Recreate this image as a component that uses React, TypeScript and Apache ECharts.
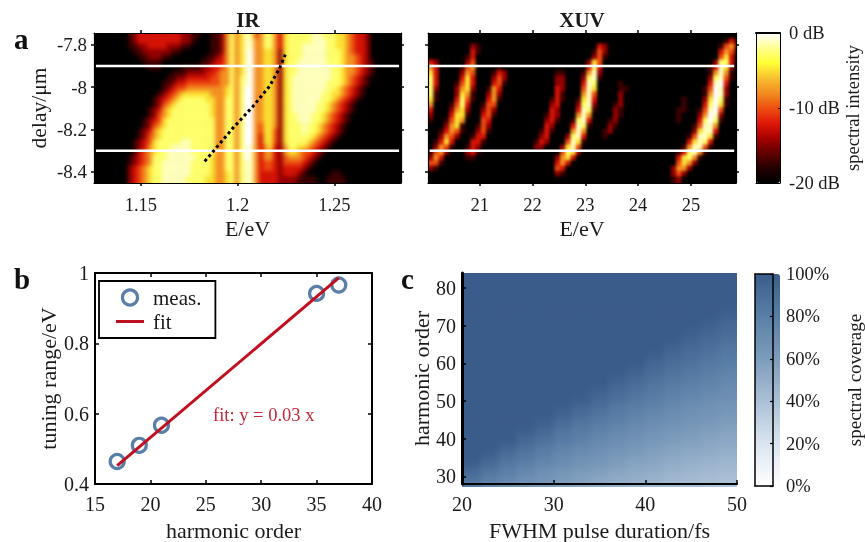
import React, { useEffect, useRef } from "react";
import * as echarts from "echarts";

const serif = '"Liberation Serif", "Times New Roman", serif';

// Panel a, IR: one digit per cell (level 0 to 9), 63 columns, top row first
const irRows = [
  "0000000123 3333333322 1100112575 6874577536 7777788777 6654332000 000",
  "0000000123 3333333322 1000112575 6885577536 7777788877 6654332000 000",
  "0000000112 2333322211 0000112575 6885577536 7778888877 6654332000 000",
  "0000000011 2222221100 0000112575 6895566526 7778888877 7654332000 000",
  "0000000001 1222110000 0001123575 6895566526 7778888877 7655432000 000",
  "0000000000 1111000000 0011233575 6895566526 7788888877 7655432100 000",
  "0000000000 0111000011 1122334575 6895566526 7788888887 7655432100 000",
  "0000000000 0000001112 2223345575 6895566526 7788888887 7655432100 000",
  "0000000000 0000011223 3333445575 7895566526 7888888887 7654321000 000",
  "0000000000 0000112334 4444445575 7895566526 7888888877 7654321000 000",
  "0000000000 0000123445 5555555675 7995566526 7888888877 6543210000 000",
  "0000000000 0001234566 6666555675 7995566526 7888888776 6543210000 000",
  "0000000000 0012345677 7776655775 7995566526 7888888776 5432100000 000",
  "0000000000 0012456777 7777655775 7995566526 7888887765 4321000000 000",
  "0000000000 0123567777 7777655775 7995566526 7888887765 4321000000 000",
  "0000000000 0124567777 7777655775 7995566526 7788877654 3210000000 000",
  "0000000000 1234677777 7777755775 7995566526 7788877654 3210000000 000",
  "0000000000 1245677777 7777755775 7995466526 7778776543 2100000000 000",
  "0000000001 2356777777 7777755775 7995466426 7778776543 2100000000 000",
  "0000000001 2456777777 7777755775 7995366426 7777765432 1000000000 000",
  "0000000012 3467777788 7777755775 7995366426 7777654321 0000000000 000",
  "0000000012 3567778888 7777755775 7985356325 7766543210 0000000000 000",
  "0000000013 4567788888 7777755775 7985355325 6654432100 0000000000 000",
  "0000000123 4577788888 8777655775 7985355324 5554321000 0000000000 000",
  "0000000123 4577888888 7777655775 7885344324 4443210000 0000000000 000",
  "0000000234 5677888888 7777655775 7885344323 3332100000 0000000000 000",
  "0000000234 5677888888 7777655675 7885333323 3321000001 1000000000 000",
  "0000000234 5677888887 7776655675 7885333322 2211110011 1100000000 000",
];

// Panel a, XUV: same coding, 59 columns
const xuvRows = [
  "0000000000 0000000000 0000000000 0000000000 0000000000 000000000",
  "0000000000 0000000000 0000000000 0000000000 0000000000 000000131",
  "0000000021 0000000000 0000000000 0032000000 0000000000 000001452",
  "0000000031 0000000000 0000000000 0142000000 0000000000 000003541",
  "0000000130 0000000000 0000000000 0241000000 0000000000 000004630",
  "3200000240 0000000000 0000000000 2640000000 0000000000 000027730",
  "5300001450 0001000000 0000000000 3730000000 0000000000 000138620",
  "6300002540 0013200000 0000110001 5820000000 0000000000 000158510",
  "7300003630 0024200000 0000220002 7810000000 0000000000 000278410",
  "7300014630 0034100000 0000220003 8700001000 0000000000 000389300",
  "7200025620 0153000000 0000320004 8600001100 0000000000 001498200",
  "7100026510 0252000000 0000310005 8400002000 0000000000 001598200",
  "6100037410 0351000000 0001310016 8300002000 0000000010 002697100",
  "5000147300 1440000000 0002300027 8200012000 0000000010 003796100",
  "3000256200 2420000000 0003200038 7100021000 0000000110 014894000",
  "2000366100 3410000000 0013200058 5000021000 0000000100 025982000",
  "1001465000 4300000000 0023100178 3000120000 0000000100 037971000",
  "0002561001 4200000000 0032000387 1000210000 0000000000 148850000",
  "0013541002 4100000000 0131000585 0001200000 0000000000 268830000",
  "0025420013 3000000000 0230002783 0001000000 0000000001 488610000",
  "0136300033 1000000000 1320004861 0000000000 0000000003 687300000",
  "0254100132 0000000000 2200026840 0000000000 0000000015 884100000",
  "1452000231 0000000000 0000047620 0000000000 0000000137 851000000",
  "2530000110 0000000000 0000256300 0000000000 0000000367 510000000",
  "4410000000 0000000000 0000353000 0000000000 0000000465 200000000",
  "2100000000 0000000000 0000430000 0000000000 0000002552 000000000",
  "0000000000 0000000000 0000210000 0000000000 0000002420 000000000",
  "0000000000 0000000000 0000000000 0000000000 0000001200 000000000",
];

// dB for each level of the two tables above
const levelDb = [-20, -17.2, -14.6, -12.4, -10.2, -7.8, -5, -2.8, -1.2, 0];

const irStart = { e: 1.1258, delay: -7.745, de: 0.0025, dd: 0.025 };
const xuvStart = { e: 20.02, delay: -7.745, de: 0.1, dd: 0.025 };

// Tuning curve over the IR map
const dotCurve = [
  [1.183, -8.35],
  [1.1976, -8.193],
  [1.208, -8.09],
  [1.2165, -7.996],
  [1.2217, -7.91],
  [1.2246, -7.847],
];
const whiteDelays = [-7.9, -8.3];

// Panel b
const measured = [
  [17, 0.464],
  [19, 0.51],
  [21, 0.567],
  [35, 0.942],
  [37, 0.966],
];
const fitLine = [
  [17, 0.452],
  [37, 0.986],
];

// Panel c: coverage in %, bottom row (harmonic 28-30) first, columns 20-22 fs ... 48-50 fs
const coverageRows = [
  [84, 77, 72, 67, 63, 59, 56, 53, 50, 48, 45, 43, 42, 40, 38],
  [89, 82, 77, 71, 67, 63, 59, 56, 53, 51, 49, 46, 44, 43, 41],
  [95, 88, 81, 76, 71, 67, 63, 60, 57, 54, 52, 49, 47, 45, 44],
  [100, 93, 86, 81, 76, 71, 67, 64, 60, 57, 55, 52, 50, 48, 46],
  [100, 98, 91, 85, 80, 75, 71, 67, 64, 61, 58, 55, 53, 51, 49],
  [100, 100, 96, 90, 84, 79, 75, 71, 67, 64, 61, 58, 56, 54, 52],
  [100, 100, 100, 94, 89, 83, 79, 74, 71, 67, 64, 61, 59, 56, 54],
  [100, 100, 100, 99, 93, 87, 82, 78, 74, 71, 67, 64, 62, 59, 57],
  [100, 100, 100, 100, 97, 91, 86, 82, 78, 74, 70, 67, 65, 62, 60],
  [100, 100, 100, 100, 100, 95, 90, 85, 81, 77, 74, 70, 67, 65, 62],
  [100, 100, 100, 100, 100, 99, 94, 89, 84, 80, 77, 73, 70, 67, 65],
  [100, 100, 100, 100, 100, 100, 98, 93, 88, 84, 80, 76, 73, 70, 68],
  [100, 100, 100, 100, 100, 100, 100, 96, 91, 87, 83, 79, 76, 73, 70],
  [100, 100, 100, 100, 100, 100, 100, 100, 95, 90, 86, 82, 79, 76, 73],
  [100, 100, 100, 100, 100, 100, 100, 100, 98, 94, 89, 85, 82, 79, 75],
  [100, 100, 100, 100, 100, 100, 100, 100, 100, 97, 92, 88, 85, 81, 78],
  [100, 100, 100, 100, 100, 100, 100, 100, 100, 100, 95, 91, 88, 84, 81],
  [100, 100, 100, 100, 100, 100, 100, 100, 100, 100, 99, 94, 90, 87, 83],
  [100, 100, 100, 100, 100, 100, 100, 100, 100, 100, 100, 97, 93, 90, 86],
  [100, 100, 100, 100, 100, 100, 100, 100, 100, 100, 100, 100, 96, 92, 89],
  [100, 100, 100, 100, 100, 100, 100, 100, 100, 100, 100, 100, 99, 95, 91],
  [100, 100, 100, 100, 100, 100, 100, 100, 100, 100, 100, 100, 100, 98, 94],
  [100, 100, 100, 100, 100, 100, 100, 100, 100, 100, 100, 100, 100, 100, 97],
  [100, 100, 100, 100, 100, 100, 100, 100, 100, 100, 100, 100, 100, 100, 99],
  [100, 100, 100, 100, 100, 100, 100, 100, 100, 100, 100, 100, 100, 100, 100],
  [100, 100, 100, 100, 100, 100, 100, 100, 100, 100, 100, 100, 100, 100, 100],
  [100, 100, 100, 100, 100, 100, 100, 100, 100, 100, 100, 100, 100, 100, 100],
  [100, 100, 100, 100, 100, 100, 100, 100, 100, 100, 100, 100, 100, 100, 100],
];

const hotColors = ["#000000", "#240000", "#600000", "#a80000", "#e01808", "#ee5010", "#f28c20", "#f8c030", "#ffff33", "#ffff90", "#ffffff"];
const blueColors = ["#ffffff", "#dbe5ef", "#abc0d6", "#7d9cbc", "#5a7fa6", "#3a5c8b"];

const irTicksX = [1.15, 1.2, 1.25];
const delayTicks = [-7.8, -8, -8.2, -8.4];
const xuvTicksX = [21, 22, 23, 24, 25];
const harmonicTicks = [30, 40, 50, 60, 70, 80];

const IR_BOX = { left: 94, top: 33, width: 307, height: 150 };
const XUV_BOX = { left: 428, top: 33, width: 308, height: 150 };
const COV_BOX = { left: 462, top: 273, width: 275, height: 214 };
const IR_RANGE = { xMin: 1.1258, xMax: 1.2844, yMin: -8.452, yMax: -7.745 };
const XUV_RANGE = { xMin: 20.02, xMax: 25.854, yMin: -8.452, yMax: -7.745 };
const COV_RANGE = { xMin: 20, xMax: 50, yMin: 28, yMax: 84 };
const PAD = 8;

function levelCells(rows: string[], s: { e: number; delay: number; de: number; dd: number }) {
  const out: number[][] = [];
  rows.forEach((row, r) => {
    row.replace(/ /g, "").split("").forEach((ch, c) => {
      out.push([s.e + c * s.de, s.delay - r * s.dd, levelDb[Number(ch)]]);
    });
  });
  return out;
}

function coverageCells() {
  const out: number[][] = [];
  coverageRows.forEach((row, r) => {
    row.forEach((v, c) => {
      out.push([20 + c * 2, 30 + r * 2, v]);
    });
  });
  return out;
}

function cellSeries(data: number[][], dx: number, dy: number, pad: number) {
  return {
    type: "custom",
    data,
    silent: true,
    progressive: 0,
    encode: { x: 0, y: 1 },
    renderItem(params: any, api: any) {
      const x = api.value(0);
      const y = api.value(1);
      const a = api.coord([x, y]);
      const b = api.coord([x + dx, y - dy]);
      const cs = params.coordSys;
      let x0 = a[0];
      let y0 = a[1];
      let x1 = b[0] + 0.6;
      let y1 = b[1] + 0.6;
      if (pad) {
        if (x0 <= cs.x + 1) x0 -= pad;
        if (y0 <= cs.y + 1) y0 -= pad;
        if (x1 >= cs.x + cs.width - 6) x1 += pad;
        if (y1 >= cs.y + cs.height - 6) y1 += pad;
      }
      return {
        type: "rect",
        shape: { x: x0, y: y0, width: x1 - x0, height: y1 - y0 },
        style: { fill: api.visual("color") },
      };
    },
  };
}

function heatOption(box: any, range: any, data: number[][], dx: number, dy: number, min: number, max: number, colors: string[]) {
  return {
    animation: false,
    grid: { left: PAD, top: PAD, width: box.width, height: box.height, show: false },
    xAxis: { type: "value", min: range.xMin, max: range.xMax, show: false },
    yAxis: { type: "value", min: range.yMin, max: range.yMax, show: false },
    visualMap: { show: false, min, max, dimension: 2, inRange: { color: colors } },
    series: [cellSeries(data, dx, dy, PAD)],
  };
}

const label = (size = 18) => ({ fontFamily: serif, fontSize: size, color: "#1a1a1a" });
const line = (width = 1.2) => ({ show: true, onZero: false, lineStyle: { color: "#000", width } });

function mainOption() {
  const grid = [
    { ...IR_BOX },
    { ...XUV_BOX },
    { left: 756, top: 33, width: 24, height: 150 },
    { left: 95, top: 273, width: 277, height: 214 },
    { ...COV_BOX },
    { left: 755, top: 274, width: 25, height: 212 },
  ];
  const xAxis: any[] = [];
  const yAxis: any[] = [];
  const hidden = { show: false };

  // IR
  const irX = { gridIndex: 0, type: "value", min: IR_RANGE.xMin, max: IR_RANGE.xMax, splitLine: hidden, axisLine: line(), axisTick: { show: true, customValues: irTicksX, length: 3, lineStyle: { color: "#000", width: 1.5 } } };
  const yPanelA = { type: "value", min: IR_RANGE.yMin, max: IR_RANGE.yMax, splitLine: hidden, axisLine: line(), axisTick: { show: true, customValues: delayTicks, length: 3, lineStyle: { color: "#000", width: 1.5 } } };
  xAxis.push({ ...irX, position: "bottom", name: "E/eV", nameLocation: "middle", nameGap: 34, nameTextStyle: label(22), axisLabel: { ...label(18.5), margin: 12, customValues: irTicksX, formatter: (v: number) => String(v) } });
  xAxis.push({ ...irX, position: "top", axisLabel: hidden });
  yAxis.push({ ...yPanelA, gridIndex: 0, position: "left", name: "delay/μm", nameLocation: "middle", nameGap: 44, nameTextStyle: label(21.5), axisLabel: { ...label(19), margin: 7, customValues: delayTicks, formatter: (v: number) => String(v) } });
  yAxis.push({ ...yPanelA, gridIndex: 0, position: "right", axisLabel: hidden });

  // XUV
  const xuvX = { gridIndex: 1, type: "value", min: XUV_RANGE.xMin, max: XUV_RANGE.xMax, splitLine: hidden, axisLine: line(), axisTick: { show: true, customValues: xuvTicksX, length: 3, lineStyle: { color: "#000", width: 1.5 } } };
  xAxis.push({ ...xuvX, position: "bottom", name: "E/eV", nameLocation: "middle", nameGap: 34, nameTextStyle: label(22), axisLabel: { ...label(18.5), margin: 12, customValues: xuvTicksX, formatter: (v: number) => String(v) } });
  xAxis.push({ ...xuvX, position: "top", axisLabel: hidden });
  yAxis.push({ ...yPanelA, gridIndex: 1, position: "left", axisLabel: hidden });
  yAxis.push({ ...yPanelA, gridIndex: 1, position: "right", axisLabel: hidden });

  // Colour bar a
  xAxis.push({ gridIndex: 2, type: "value", min: 0, max: 1, position: "bottom", z: 10, axisLine: line(1), axisTick: hidden, axisLabel: hidden, splitLine: hidden });
  xAxis.push({ gridIndex: 2, type: "value", min: 0, max: 1, position: "top", z: 10, axisLine: line(2), axisTick: hidden, axisLabel: hidden, splitLine: hidden });
  yAxis.push({ gridIndex: 2, type: "value", min: 0, max: 1, position: "left", z: 10, axisLine: line(1), axisTick: hidden, axisLabel: hidden, splitLine: hidden });
  yAxis.push({
    gridIndex: 2, type: "value", min: -20, max: 0, interval: 10, position: "right", z: 10, axisLine: line(1),
    axisTick: { show: true, inside: true, length: 2, lineStyle: { color: "#000", width: 1.2 } },
    axisLabel: { ...label(18.5), margin: 9, formatter: (v: number) => v + " dB" },
    splitLine: hidden, name: "spectral intensity", nameLocation: "middle", nameRotate: 90, nameGap: 62, nameTextStyle: label(18.5),
  });

  // Panel b
  const bTick = { show: true, inside: true, length: 4, lineStyle: { color: "#000", width: 1.5 } };
  xAxis.push({ gridIndex: 3, type: "value", min: 15, max: 40, interval: 5, position: "bottom", axisLine: line(2), axisTick: bTick, splitLine: hidden, axisLabel: { ...label(20), margin: 10 }, name: "harmonic order", nameLocation: "middle", nameGap: 35, nameTextStyle: label(22) });
  xAxis.push({ gridIndex: 3, type: "value", min: 15, max: 40, interval: 5, position: "top", axisLine: line(2), axisTick: bTick, splitLine: hidden, axisLabel: hidden });
  yAxis.push({ gridIndex: 3, type: "value", min: 0.4, max: 1, interval: 0.2, position: "left", axisLine: line(2), axisTick: bTick, splitLine: hidden, axisLabel: { ...label(20), margin: 6, formatter: (v: number) => String(Math.round(v * 10) / 10) }, name: "tuning range/eV", nameLocation: "middle", nameGap: 36, nameTextStyle: label(22) });
  yAxis.push({ gridIndex: 3, type: "value", min: 0.4, max: 1, interval: 0.2, position: "right", axisLine: line(2), axisTick: bTick, splitLine: hidden, axisLabel: hidden });

  // Panel c
  const cTick = { show: true, inside: true, length: 4, lineStyle: { color: "#000", width: 1.5 } };
  xAxis.push({ gridIndex: 4, type: "value", min: COV_RANGE.xMin, max: COV_RANGE.xMax, interval: 10, position: "bottom", z: 10, axisLine: line(2), axisTick: cTick, splitLine: hidden, axisLabel: { ...label(20), margin: 10 }, name: "FWHM pulse duration/fs", nameLocation: "middle", nameGap: 35, nameTextStyle: label(22) });
  yAxis.push({ gridIndex: 4, type: "value", min: COV_RANGE.yMin, max: COV_RANGE.yMax, position: "left", z: 10, axisLine: line(3), axisTick: { ...cTick, customValues: harmonicTicks }, splitLine: hidden, axisLabel: { ...label(20), margin: 6, customValues: harmonicTicks, formatter: (v: number) => String(v) }, name: "harmonic order", nameLocation: "middle", nameGap: 30, nameTextStyle: label(22) });

  // Colour bar c
  xAxis.push({ gridIndex: 5, type: "value", min: 0, max: 1, position: "bottom", z: 10, axisLine: line(1.5), axisTick: hidden, axisLabel: hidden, splitLine: hidden });
  xAxis.push({ gridIndex: 5, type: "value", min: 0, max: 1, position: "top", z: 10, axisLine: line(1.5), axisTick: hidden, axisLabel: hidden, splitLine: hidden });
  yAxis.push({ gridIndex: 5, type: "value", min: 0, max: 1, position: "left", z: 10, axisLine: line(1.5), axisTick: hidden, axisLabel: hidden, splitLine: hidden });
  yAxis.push({
    gridIndex: 5, type: "value", min: 0, max: 100, interval: 20, position: "right", z: 10, axisLine: line(1.5),
    axisTick: { show: true, inside: true, length: 3, lineStyle: { color: "#000", width: 1.2 } },
    axisLabel: { ...label(18.5), margin: 13, formatter: (v: number) => v + "%" },
    splitLine: hidden, name: "spectral coverage", nameLocation: "middle", nameRotate: 90, nameGap: 72, nameTextStyle: label(19),
  });

  const white = (xi: number, yi: number, x0: number, x1: number, d: number) => ({
    type: "line", xAxisIndex: xi, yAxisIndex: yi, symbol: "none", silent: true,
    lineStyle: { color: "#fff", width: 2.5 }, data: [[x0, d], [x1, d]],
  });

  const series: any[] = [
    white(0, 0, 1.1268, 1.2834, whiteDelays[0]),
    white(0, 0, 1.1268, 1.2834, whiteDelays[1]),
    {
      type: "line", xAxisIndex: 0, yAxisIndex: 0, symbol: "none", silent: true, data: dotCurve,
      lineStyle: { color: "#000", width: 3, type: [3, 3] },
    },
    white(2, 2, 20.05, 25.82, whiteDelays[0]),
    white(2, 2, 20.05, 25.82, whiteDelays[1]),
    {
      name: "fit", type: "line", xAxisIndex: 6, yAxisIndex: 6, symbol: "none", data: fitLine, z: 3,
      lineStyle: { color: "#c0101f", width: 3 }, itemStyle: { color: "#c0101f" },
    },
    {
      name: "meas.", type: "scatter", xAxisIndex: 6, yAxisIndex: 6, symbol: "circle", symbolSize: 14, data: measured, z: 2,
      itemStyle: { color: "transparent", borderColor: "#2f5f92", borderWidth: 3.2 },
    },
  ];

  return {
    animation: false,
    backgroundColor: "transparent",
    textStyle: { fontFamily: serif },
    title: [
      { text: "IR", left: 248, top: 9, padding: 0, textAlign: "center", textStyle: { fontFamily: serif, fontSize: 21, fontWeight: "bold", color: "#1a1a1a" } },
      { text: "XUV", left: 582, top: 9, padding: 0, textAlign: "center", textStyle: { fontFamily: serif, fontSize: 21, fontWeight: "bold", color: "#1a1a1a" } },
    ],
    grid,
    xAxis,
    yAxis,
    legend: {
      left: 99, top: 281, orient: "vertical", padding: [6, 14, 6, 17], itemGap: 3, itemWidth: 28, itemHeight: 15,
      borderColor: "#000", borderWidth: 1.8, backgroundColor: "#fff",
      textStyle: { fontFamily: serif, fontSize: 21, color: "#1a1a1a", padding: [0, 0, 0, 4] },
      data: [
        { name: "meas.", icon: "circle", itemStyle: { color: "transparent", borderColor: "#2f5f92", borderWidth: 3.2 } },
        { name: "fit", icon: "path://M0,0 L28,0 L28,3 L0,3 Z", itemStyle: { color: "#c0101f", borderWidth: 0 } },
      ],
    },
    visualMap: [
      {
        type: "continuous", show: true, seriesIndex: [], z: 1, min: -20, max: 0, left: 756, top: 33, padding: 0, itemWidth: 24, itemHeight: 150,
        calculable: false, realtime: false, hoverLink: false, text: null, showLabel: false, inRange: { color: hotColors },
      },
      {
        type: "continuous", show: true, seriesIndex: [], z: 1, min: 0, max: 100, left: 755, top: 274, padding: 0, itemWidth: 25, itemHeight: 212,
        calculable: false, realtime: false, hoverLink: false, text: null, showLabel: false, inRange: { color: blueColors },
      },
    ],
    graphic: [
      { type: "text", left: 14, top: 24, style: { text: "a", fontFamily: serif, fontSize: 29, fontWeight: "bold", fill: "#111" } },
      { type: "text", left: 14, top: 264, style: { text: "b", fontFamily: serif, fontSize: 29, fontWeight: "bold", fill: "#111" } },
      { type: "text", left: 401, top: 264, style: { text: "c", fontFamily: serif, fontSize: 29, fontWeight: "bold", fill: "#111" } },
      { type: "text", left: 213, top: 405, style: { text: "fit: y = 0.03 x", fontFamily: serif, fontSize: 18.5, fill: "#c5283a" } },
    ],
    series,
  };
}

export default function App() {
  const mainRef = useRef<HTMLDivElement>(null);
  const irRef = useRef<HTMLDivElement>(null);
  const xuvRef = useRef<HTMLDivElement>(null);
  const covRef = useRef<HTMLDivElement>(null);

  useEffect(() => {
    const ir = echarts.init(irRef.current!, undefined, { renderer: "svg" });
    const xuv = echarts.init(xuvRef.current!, undefined, { renderer: "svg" });
    const cov = echarts.init(covRef.current!, undefined, { renderer: "svg" });
    const main = echarts.init(mainRef.current!, undefined, { renderer: "svg" });
    ir.setOption(heatOption(IR_BOX, IR_RANGE, levelCells(irRows, irStart), irStart.de, irStart.dd, -20, 0, hotColors) as any);
    xuv.setOption(heatOption(XUV_BOX, XUV_RANGE, levelCells(xuvRows, xuvStart), xuvStart.de, xuvStart.dd, -20, 0, hotColors) as any);
    cov.setOption(heatOption(COV_BOX, COV_RANGE, coverageCells(), 2, 2, 0, 100, blueColors) as any);
    main.setOption(mainOption() as any);
    return () => {
      ir.dispose();
      xuv.dispose();
      cov.dispose();
      main.dispose();
    };
  }, []);

  const clip = (b: any, bg: string): React.CSSProperties => ({ position: "absolute", left: b.left, top: b.top, width: b.width, height: b.height, overflow: "hidden", background: bg });
  const inner = (b: any, blur: number): React.CSSProperties => ({ position: "absolute", left: -PAD, top: -PAD, width: b.width + 2 * PAD, height: b.height + 2 * PAD, filter: `blur(${blur}px)` });

  return (
    <div style={{ position: "fixed", left: 0, top: 0, width: 865, height: 542, background: "#fff", overflow: "hidden" }}>
      <div style={clip(IR_BOX, "#000")}>
        <div ref={irRef} style={inner(IR_BOX, 2)} />
      </div>
      <div style={clip(XUV_BOX, "#000")}>
        <div ref={xuvRef} style={inner(XUV_BOX, 1.8)} />
      </div>
      <div style={clip(COV_BOX, "#3a5c8b")}>
        <div ref={covRef} style={inner(COV_BOX, 3)} />
      </div>
      <div ref={mainRef} style={{ position: "absolute", left: 0, top: 0, width: 865, height: 542, filter: "blur(0.35px)" }} />
    </div>
  );
}
